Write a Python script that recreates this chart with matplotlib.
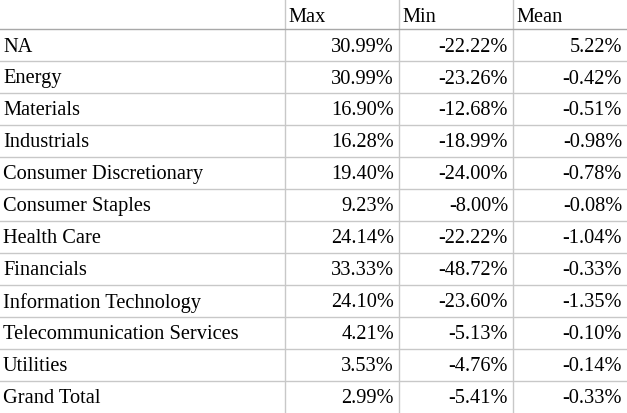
import matplotlib
matplotlib.use("Agg")
import matplotlib.pyplot as plt

columns = ["Max", "Min", "Mean"]
categories = ["NA", "Energy", "Materials", "Industrials", "Consumer Discretionary",
              "Consumer Staples", "Health Care", "Financials", "Information Technology",
              "Telecommunication Services", "Utilities", "Grand Total"]
max_vals = ["30.99%", "30.99%", "16.90%", "16.28%", "19.40%", "9.23%", "24.14%",
            "33.33%", "24.10%", "4.21%", "3.53%", "2.99%"]
min_vals = ["-22.22%", "-23.26%", "-12.68%", "-18.99%", "-24.00%", "-8.00%", "-22.22%",
            "-48.72%", "-23.60%", "-5.13%", "-4.76%", "-5.41%"]
mean_vals = ["5.22%", "-0.42%", "-0.51%", "-0.98%", "-0.78%", "-0.08%", "-1.04%",
             "-0.33%", "-1.35%", "-0.10%", "-0.14%", "-0.33%"]

W, H = 627, 414
fig = plt.figure(figsize=(W/100, H/100), dpi=100)
ax = fig.add_axes([0, 0, 1, 1])
ax.set_xlim(0, W); ax.set_ylim(H, 0); ax.axis("off")

font = dict(family="Liberation Serif", fontsize=14.7, color="black")
col_x = [285, 399, 513, 627]
header_h, row_h = 30, 32
gc = "#c8c8c8"

for x in col_x[:3]:
    ax.plot([x, x], [0, H], color=gc, lw=1)
for k in range(len(categories)):
    y = header_h + k * row_h
    ax.plot([0, W], [y, y], color="#a8a8a8" if k in (0,) else gc, lw=1)

for i, c in enumerate(columns):
    ax.text(col_x[i] + 3, header_h / 2 + 2, c, ha="left", va="center", **font)

cols = [max_vals, min_vals, mean_vals]
for r, cat in enumerate(categories):
    yc = header_h + r * row_h + row_h / 2 + 1
    ax.text(3, yc, cat, ha="left", va="center", **font)
    for i, vals in enumerate(cols):
        ax.text(col_x[i + 1] - 5, yc, vals[r], ha="right", va="center", **font)

fig.savefig("out.png", dpi=100)
